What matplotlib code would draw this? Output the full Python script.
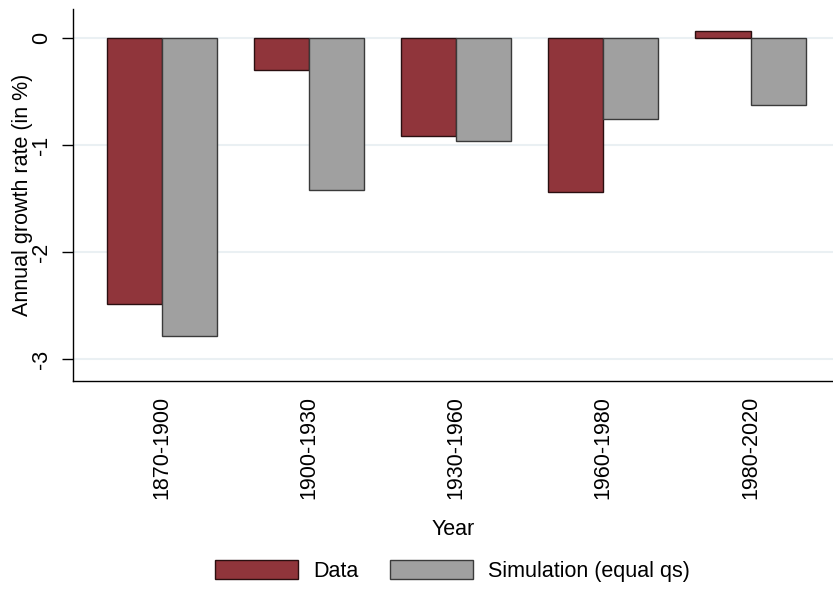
import numpy as np
import matplotlib
matplotlib.use("Agg")
import matplotlib.pyplot as plt

# values
periods = ["1870-1900", "1900-1930", "1930-1960", "1960-1980", "1980-2020"]
data_vals = [-2.48, -0.30, -0.92, -1.44, 0.065]
sim_vals = [-2.78, -1.42, -0.96, -0.76, -0.63]
yticks = [0, -1, -2, -3]

plt.rcParams['font.family'] = ['Liberation Sans', 'DejaVu Sans']
fs = 15.5

fig = plt.figure(figsize=(8.33, 5.89), dpi=100)
ax = fig.add_axes([73.3 / 833, 1 - 380.7 / 589, 1 - 73.3 / 833, (380.7 - 9) / 589])

x = np.arange(len(periods))
w = 0.374
ax.bar(x - w / 2, data_vals, w, color='#90353b', edgecolor='#2a0f10', linewidth=1.0,
       label='Data', zorder=3)
ax.bar(x + w / 2, sim_vals, w, color='#a0a0a0', edgecolor='#3a3a3a', linewidth=1.0,
       label='Simulation (equal qs)', zorder=3)

ax.set_xlim(-0.6, 4.56)
ax.set_ylim(-3.2, 0.27)

ax.set_yticks(yticks)
ax.set_yticklabels([str(t) for t in yticks], rotation=90, va='center', fontsize=fs)
ax.tick_params(axis='y', length=8, width=1, pad=7)
ax.set_xticks(x)
ax.set_xticklabels(periods, rotation=90, fontsize=fs)
ax.tick_params(axis='x', length=0, pad=11)

ax.grid(axis='y', color='#eaf0f3', linewidth=1.5, zorder=0)
ax.set_axisbelow(True)
for s in ['top', 'right']:
    ax.spines[s].set_visible(False)
for s in ['left', 'bottom']:
    ax.spines[s].set_linewidth(1.0)

ax.set_ylabel('Annual growth rate (in %)', fontsize=fs)
ax.yaxis.set_label_coords(-0.053, 0.5)
ax.set_xlabel('Year', fontsize=fs, labelpad=14)

fig.legend(loc='center', bbox_to_anchor=(452.5 / 833, 1 - 571 / 589), ncol=2,
           frameon=False, fontsize=fs, handlelength=3.86, handleheight=1.0,
           handletextpad=0.7, columnspacing=1.5)

fig.savefig('out.png', dpi=100)
